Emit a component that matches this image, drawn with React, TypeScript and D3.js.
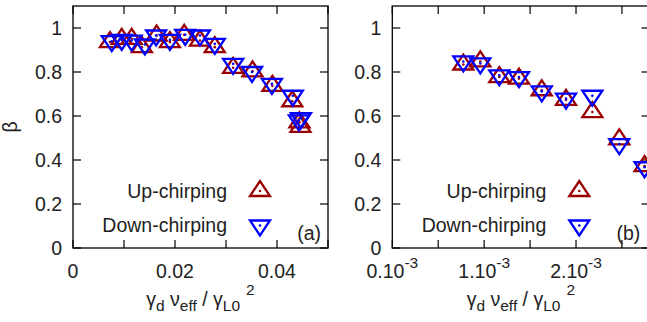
import React from "react";
import * as d3 from "d3";

// ---- data ----
const leftUpX = [0.00725, 0.00955, 0.0115, 0.0135, 0.0164, 0.019, 0.0218, 0.0249, 0.0278, 0.0314, 0.0352, 0.0391, 0.043, 0.0444, 0.0446];
const leftUpY = [0.936, 0.951, 0.951, 0.913, 0.966, 0.936, 0.969, 0.943, 0.913, 0.819, 0.803, 0.737, 0.667, 0.571, 0.551];
const leftDownX = [0.0076, 0.00955, 0.0115, 0.0141, 0.0163, 0.019, 0.022, 0.0249, 0.0278, 0.0314, 0.0351, 0.039, 0.0431, 0.0443, 0.0447];
const leftDownY = [0.94, 0.946, 0.943, 0.925, 0.966, 0.946, 0.969, 0.966, 0.928, 0.837, 0.8, 0.746, 0.692, 0.58, 0.59];

const rightX = [0.773e-3, 0.958e-3, 1.165e-3, 1.379e-3, 1.627e-3, 1.891e-3, 2.178e-3, 2.471e-3, 2.746e-3];
const rightUpY = [0.834, 0.848, 0.777, 0.77, 0.717, 0.673, 0.618, 0.494, 0.372];
const rightDownY = [0.848, 0.839, 0.785, 0.777, 0.712, 0.679, 0.692, 0.472, 0.367];

const yTicks = [0, 0.2, 0.4, 0.6, 0.8, 1];
const yTickLabels = ["0", "0.2", "0.4", "0.6", "0.8", "1"];
const leftXTicks = [0, 0.01, 0.02, 0.03, 0.04, 0.05];
const leftXLabels = ["0", "", "0.02", "", "0.04", ""];
const rightXTicks = [0, 0.5e-3, 1e-3, 1.5e-3, 2e-3, 2.5e-3];
const rightXLabels = ["0.10", "", "1.10", "", "2.10", ""];

const seriesNames = ["Up-chirping", "Down-chirping"];

// ---- style ----
const RED = "#9a0000";
const BLUE = "#0000ff";
const TXT = "#222";
const FONT = "'Liberation Sans', Arial, Helvetica, sans-serif";
const FS = 19.5;
const SUB = 15.5;
const TICK = 8;

const TOP = 6;
const BOTTOM = 248;

function Tri({ x, y, up, color }: { x: number; y: number; up: boolean; color: string }) {
  const d = up
    ? `M${x},${y - 10}L${x - 10},${y + 5}L${x + 10},${y + 5}Z`
    : `M${x},${y + 10}L${x - 10},${y - 5}L${x + 10},${y - 5}Z`;
  return (
    <g>
      <path d={d} fill="none" stroke={color} strokeWidth={2.3} strokeLinejoin="miter" />
      <circle cx={x} cy={y} r={1.3} fill={color} />
    </g>
  );
}

function Panel({
  x0, x1, domain, xTicks, xLabels, sup, upX, upY, downX, downY, tag,
}: {
  x0: number; x1: number; domain: [number, number]; xTicks: number[]; xLabels: string[]; sup: boolean;
  upX: number[]; upY: number[]; downX: number[]; downY: number[]; tag: string;
}) {
  const xs = d3.scaleLinear().domain(domain).range([x0, x1]);
  const ys = d3.scaleLinear().domain([0, 1.1]).range([BOTTOM, TOP]);
  const cx = (x0 + x1) / 2;
  return (
    <g>
      <rect x={x0} y={TOP} width={x1 - x0} height={BOTTOM - TOP} fill="none" stroke="#000" strokeWidth={1.3} />
      {yTicks.map((t, i) => (
        <g key={"y" + i}>
          <line x1={x0} x2={x0 + TICK} y1={ys(t)} y2={ys(t)} stroke="#000" strokeWidth={1.2} />
          <line x1={x1} x2={x1 - TICK} y1={ys(t)} y2={ys(t)} stroke="#000" strokeWidth={1.2} />
          <text x={x0 - 11} y={ys(t) + 7} textAnchor="end" fontSize={FS} fill={TXT}>{yTickLabels[i]}</text>
        </g>
      ))}
      {xTicks.map((t, i) => (
        <g key={"x" + i}>
          <line x1={xs(t)} x2={xs(t)} y1={BOTTOM} y2={BOTTOM - TICK} stroke="#000" strokeWidth={1.2} />
          <line x1={xs(t)} x2={xs(t)} y1={TOP} y2={TOP + TICK} stroke="#000" strokeWidth={1.2} />
          {xLabels[i] !== "" && (
            <text x={xs(t)} y={278} textAnchor="middle" fontSize={FS} fill={TXT}>
              {xLabels[i]}
              {sup && <tspan dy={-10} fontSize={SUB}>-3</tspan>}
            </text>
          )}
        </g>
      ))}
      <text x={cx} y={306} textAnchor="middle" fontSize={FS} fill={TXT}>
        <tspan>γ</tspan>
        <tspan dy={4.5} fontSize={SUB}>d</tspan>
        <tspan dy={-4.5}> ν</tspan>
        <tspan dy={4.5} fontSize={SUB}>eff</tspan>
        <tspan dy={-4.5}> / γ</tspan>
        <tspan dy={4.5} fontSize={SUB}>L0</tspan>
        <tspan dy={-15.5} dx={6} fontSize={SUB}>2</tspan>
      </text>
      {upX.map((v, i) => (
        <Tri key={"u" + i} x={xs(v)} y={ys(upY[i])} up={true} color={RED} />
      ))}
      {downX.map((v, i) => (
        <Tri key={"d" + i} x={xs(v)} y={ys(downY[i])} up={false} color={BLUE} />
      ))}
      <text x={x0 + 154} y={198} textAnchor="end" fontSize={FS} fill={TXT}>{seriesNames[0]}</text>
      <Tri x={x0 + 187} y={191} up={true} color={RED} />
      <text x={x0 + 154} y={232} textAnchor="end" fontSize={FS} fill={TXT}>{seriesNames[1]}</text>
      <Tri x={x0 + 187} y={225.5} up={false} color={BLUE} />
      <text x={x0 + 248} y={240} textAnchor="end" fontSize={FS} fill={TXT}>{tag}</text>
    </g>
  );
}

export default function App() {
  return (
    <svg
      width={647}
      height={322}
      style={{ position: "absolute", left: 0, top: 0, display: "block", background: "#fff" }}
      fontFamily={FONT}
    >
      <rect x={0} y={0} width={647} height={322} fill="#fff" />
      <text transform="translate(17,127) rotate(-90)" textAnchor="middle" fontSize={FS} fill={TXT}>β</text>
      <Panel
        x0={73} x1={328} domain={[0, 0.05]} xTicks={leftXTicks} xLabels={leftXLabels} sup={false}
        upX={leftUpX} upY={leftUpY} downX={leftDownX} downY={leftDownY} tag="(a)"
      />
      <Panel
        x0={392.3} x1={649.5} domain={[0, 2.8e-3]} xTicks={rightXTicks} xLabels={rightXLabels} sup={true}
        upX={rightX} upY={rightUpY} downX={rightX} downY={rightDownY} tag="(b)"
      />
    </svg>
  );
}
